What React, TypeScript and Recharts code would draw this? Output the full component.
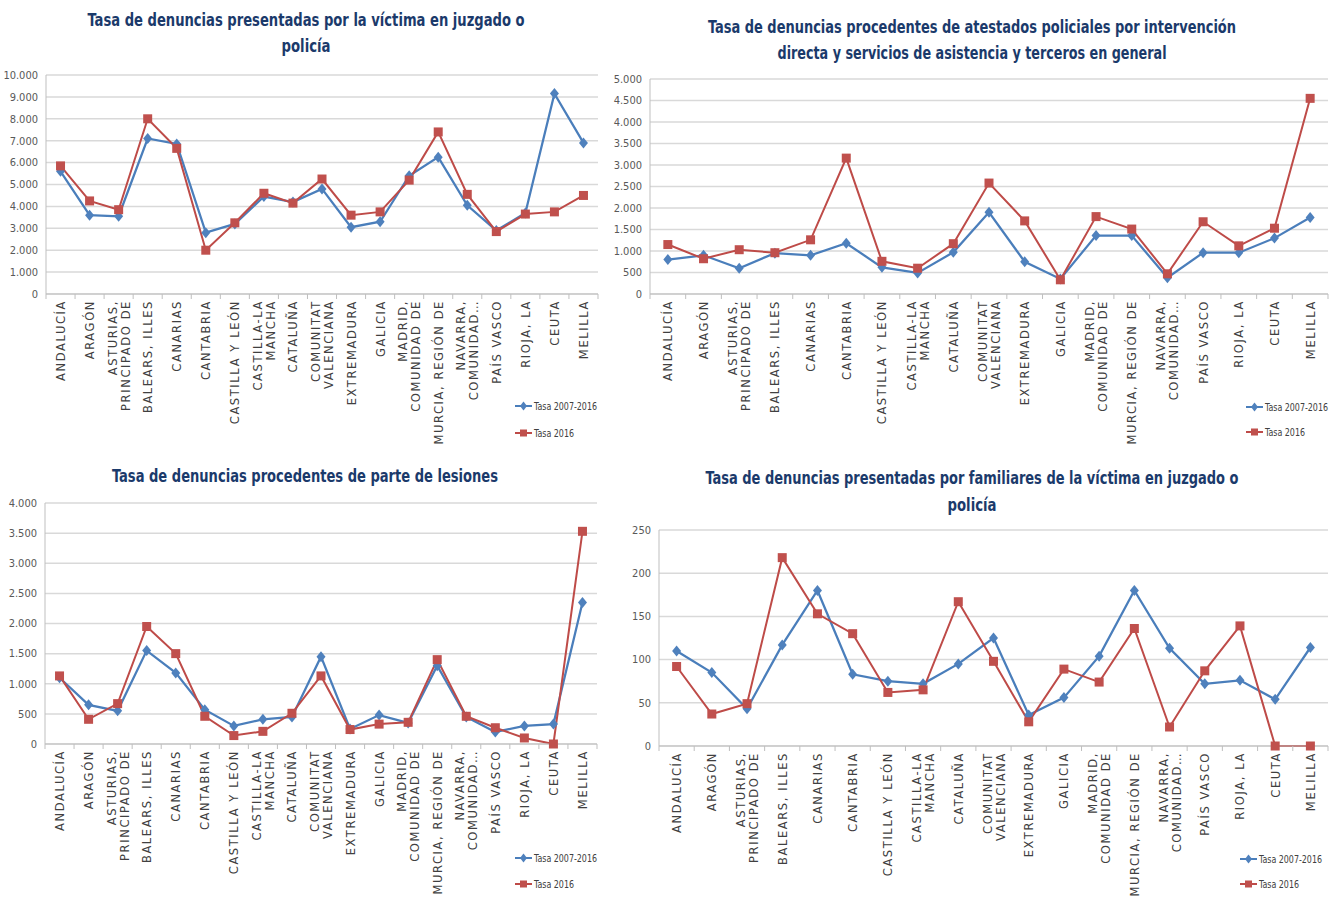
import React from "react";
import { LineChart, Line, XAxis, YAxis, CartesianGrid } from "recharts";

// category labels, already split on the lines Excel wraps them on
const categoryLines: string[][] = [
  ["ANDALUCÍA"],
  ["ARAGÓN"],
  ["ASTURIAS,", "PRINCIPADO DE"],
  ["BALEARS, ILLES"],
  ["CANARIAS"],
  ["CANTABRIA"],
  ["CASTILLA Y LEÓN"],
  ["CASTILLA-LA", "MANCHA"],
  ["CATALUÑA"],
  ["COMUNITAT", "VALENCIANA"],
  ["EXTREMADURA"],
  ["GALICIA"],
  ["MADRID,", "COMUNIDAD DE"],
  ["MURCIA, REGIÓN DE"],
  ["NAVARRA,", "COMUNIDAD…"],
  ["PAÍS VASCO"],
  ["RIOJA, LA"],
  ["CEUTA"],
  ["MELILLA"],
];

const seriesNames = ["Tasa 2007-2016", "Tasa 2016"];

// Tasa de denuncias presentadas por la víctima
const victimaPeriodo = [5600, 3600, 3550, 7100, 6850, 2800, 3200, 4450, 4200, 4800, 3050, 3300, 5400, 6250, 4050, 2900, 3700, 9150, 6900];
const victima2016 = [5850, 4250, 3850, 8000, 6650, 2000, 3250, 4600, 4150, 5250, 3600, 3750, 5200, 7400, 4550, 2850, 3650, 3750, 4500];

// Tasa de denuncias procedentes de atestados policiales
const atestadosPeriodo = [800, 900, 600, 950, 900, 1180, 620, 490, 970, 1900, 750, 350, 1360, 1360, 380, 960, 960, 1300, 1780];
const atestados2016 = [1150, 820, 1030, 960, 1260, 3160, 760, 600, 1170, 2580, 1700, 330, 1800, 1510, 470, 1680, 1120, 1530, 4550];

// Tasa de denuncias procedentes de parte de lesiones
const lesionesPeriodo = [1100, 650, 550, 1550, 1180, 570, 300, 410, 450, 1450, 250, 480, 350, 1300, 450, 200, 300, 330, 2350];
const lesiones2016 = [1130, 410, 670, 1950, 1500, 460, 140, 210, 510, 1130, 240, 330, 360, 1400, 460, 270, 100, 0, 3530];

// Tasa de denuncias presentadas por familiares
const familiaresPeriodo = [110, 85, 43, 117, 180, 83, 75, 72, 95, 125, 36, 56, 104, 180, 113, 72, 76, 54, 114];
const familiares2016 = [92, 37, 49, 218, 153, 130, 62, 65, 167, 98, 28, 89, 74, 136, 22, 87, 139, 0, 0];

const victimaTicks = [0, 1000, 2000, 3000, 4000, 5000, 6000, 7000, 8000, 9000, 10000];
const atestadosTicks = [0, 500, 1000, 1500, 2000, 2500, 3000, 3500, 4000, 4500, 5000];
const lesionesTicks = [0, 500, 1000, 1500, 2000, 2500, 3000, 3500, 4000];
const familiaresTicks = [0, 50, 100, 150, 200, 250];

const BLUE = "#4A7EBB";
const RED = "#BE4B48";
const NARROW = '"Liberation Sans Narrow", "DejaVu Sans Condensed", "Liberation Sans", Arial, sans-serif';
const WIDE = '"Century Gothic", "DejaVu Sans", sans-serif';
const Y_W = 40;
const X_H = 150;

const thousands = (v: number) => String(v).replace(/\B(?=(\d{3})+(?!\d))/g, ".");

const diamondDot = (props: any) => {
  const { cx, cy, index } = props;
  if (cx == null || cy == null) return <g key={`d-${index}`} />;
  return (
    <path
      key={`d-${index}`}
      d={`M${cx},${cy - 5.5}L${cx + 4.5},${cy}L${cx},${cy + 5.5}L${cx - 4.5},${cy}Z`}
      fill="#4F81BD"
    />
  );
};

const squareDot = (props: any) => {
  const { cx, cy, index } = props;
  if (cx == null || cy == null) return <g key={`s-${index}`} />;
  return <rect key={`s-${index}`} x={cx - 4.5} y={cy - 4.5} width={9} height={9} fill="#C0504D" />;
};

function CategoryTick(props: any) {
  const { x, y, payload, band } = props;
  const idx = payload.value as number;
  const lines = categoryLines[idx] || [];
  const n = lines.length;
  const lineH = 13;
  return (
    <g>
      {/* Excel puts the tick marks between the categories */}
      <line x1={x - band / 2} x2={x - band / 2} y1={y} y2={y + 5} stroke="#bfbfbf" />
      {idx === categoryLines.length - 1 && (
        <line x1={x + band / 2} x2={x + band / 2} y1={y} y2={y + 5} stroke="#bfbfbf" />
      )}
      {lines.map((t, i) => {
        const bx = x + (i - (n - 1) / 2) * lineH + 4.5;
        const y0 = y + 6;
        return (
          <text
            key={i}
            x={bx}
            y={y0}
            transform={`rotate(-90 ${bx} ${y0})`}
            textAnchor="end"
            fontSize={11.5}
            letterSpacing={1.6}
            fontFamily={WIDE}
            fill="#404040"
          >
            {t}
          </text>
        );
      })}
    </g>
  );
}

function ValueTick(props: any) {
  const { x, y, payload } = props;
  return (
    <text x={x} y={y} dy="0.35em" textAnchor="end" fontSize={11} fontFamily={NARROW} fill="#595959">
      {thousands(payload.value)}
    </text>
  );
}

type TitleLine = { text: string; y: number; w: number };

const legendTextW = [63, 40];

function RegionChart(props: {
  left: number;
  top: number;
  width: number;
  height: number;
  plotLeft: number;
  plotRight: number;
  plotTop: number;
  plotBottom: number;
  periodo: number[];
  anual: number[];
  ticks: number[];
  titleX: number;
  title: TitleLine[];
  legendX: number;
  legendY: number[];
}) {
  const { left, top, width, height, plotLeft, plotRight, plotTop, plotBottom, periodo, anual, ticks } = props;
  const data = categoryLines.map((_, idx) => ({ idx, periodo: periodo[idx], anual: anual[idx] }));
  const band = (plotRight - plotLeft) / categoryLines.length;
  return (
    <div style={{ position: "absolute", left, top, width, height }}>
      <LineChart
        width={width}
        height={height}
        data={data}
        margin={{ top: plotTop, left: plotLeft - Y_W, right: width - plotRight, bottom: height - plotBottom - X_H }}
      >
        <CartesianGrid vertical={false} stroke="#d9d9d9" strokeWidth={1.5} />
        <XAxis
          dataKey="idx"
          type="number"
          domain={[-0.5, categoryLines.length - 0.5]}
          ticks={categoryLines.map((_, i) => i)}
          interval={0}
          height={X_H}
          tickLine={false}
          tickSize={0}
          tickMargin={0}
          axisLine={{ stroke: "#bfbfbf" }}
          tick={(p: any) => <CategoryTick {...p} band={band} />}
        />
        <YAxis
          width={Y_W}
          domain={[0, ticks[ticks.length - 1]]}
          ticks={ticks}
          interval={0}
          tickLine={false}
          tickSize={0}
          tickMargin={8}
          axisLine={{ stroke: "#bfbfbf" }}
          tick={<ValueTick />}
        />
        <Line
          dataKey="periodo"
          name={seriesNames[0]}
          stroke={BLUE}
          strokeWidth={2.25}
          dot={diamondDot}
          isAnimationActive={false}
        />
        <Line
          dataKey="anual"
          name={seriesNames[1]}
          stroke={RED}
          strokeWidth={2}
          dot={squareDot}
          isAnimationActive={false}
        />
      </LineChart>

      <svg width={width} height={75} style={{ position: "absolute", left: 0, top: 0, pointerEvents: "none" }}>
        {props.title.map((t, i) => (
          <text
            key={i}
            x={props.titleX}
            y={t.y}
            textAnchor="middle"
            fontFamily={NARROW}
            fontWeight="bold"
            fontSize={17}
            fill="#1B3A6B"
            textLength={t.w}
            lengthAdjust="spacingAndGlyphs"
          >
            {t.text}
          </text>
        ))}
      </svg>

      {seriesNames.map((name, i) => (
        <svg
          key={name}
          width={92}
          height={16}
          style={{ position: "absolute", left: props.legendX, top: props.legendY[i] - 8, pointerEvents: "none" }}
        >
          <line x1={2} x2={19} y1={8} y2={8} stroke={i === 0 ? BLUE : RED} strokeWidth={2} />
          {i === 0 ? (
            <path d="M10.5,3.5L14,8L10.5,12.5L7,8Z" fill="#4F81BD" />
          ) : (
            <rect x={7} y={4.5} width={7} height={7} fill="#C0504D" />
          )}
          <text
            x={21}
            y={12}
            fontFamily={NARROW}
            fontSize={10}
            fill="#404040"
            textLength={legendTextW[i]}
            lengthAdjust="spacingAndGlyphs"
          >
            {name}
          </text>
        </svg>
      ))}
    </div>
  );
}

export default function App() {
  return (
    <div style={{ position: "absolute", left: 0, top: 0, width: 1337, height: 900, background: "#fff", overflow: "hidden" }}>
      <RegionChart
        left={0}
        top={0}
        width={605}
        height={450}
        plotLeft={46}
        plotRight={598}
        plotTop={75}
        plotBottom={294}
        periodo={victimaPeriodo}
        anual={victima2016}
        ticks={victimaTicks}
        titleX={306}
        title={[
          { text: "Tasa de denuncias presentadas por la víctima en juzgado o", y: 26, w: 437 },
          { text: "policía", y: 52, w: 49 },
        ]}
        legendX={513}
        legendY={[406, 433]}
      />
      <RegionChart
        left={605}
        top={0}
        width={732}
        height={450}
        plotLeft={45}
        plotRight={723}
        plotTop={79}
        plotBottom={294}
        periodo={atestadosPeriodo}
        anual={atestados2016}
        ticks={atestadosTicks}
        titleX={367}
        title={[
          { text: "Tasa de denuncias procedentes de atestados policiales por intervención", y: 33, w: 528 },
          { text: "directa y servicios de asistencia y terceros en general", y: 59, w: 389 },
        ]}
        legendX={639}
        legendY={[407, 432]}
      />
      <RegionChart
        left={0}
        top={450}
        width={605}
        height={450}
        plotLeft={45}
        plotRight={597}
        plotTop={53}
        plotBottom={294}
        periodo={lesionesPeriodo}
        anual={lesiones2016}
        ticks={lesionesTicks}
        titleX={305}
        title={[{ text: "Tasa de denuncias procedentes de parte de lesiones", y: 32, w: 386 }]}
        legendX={513}
        legendY={[408, 434]}
      />
      <RegionChart
        left={605}
        top={450}
        width={732}
        height={450}
        plotLeft={54}
        plotRight={723}
        plotTop={80}
        plotBottom={296}
        periodo={familiaresPeriodo}
        anual={familiares2016}
        ticks={familiaresTicks}
        titleX={367}
        title={[
          { text: "Tasa de denuncias presentadas por familiares de la víctima en juzgado o", y: 34, w: 533 },
          { text: "policía", y: 61, w: 49 },
        ]}
        legendX={633}
        legendY={[409, 434]}
      />
    </div>
  );
}
